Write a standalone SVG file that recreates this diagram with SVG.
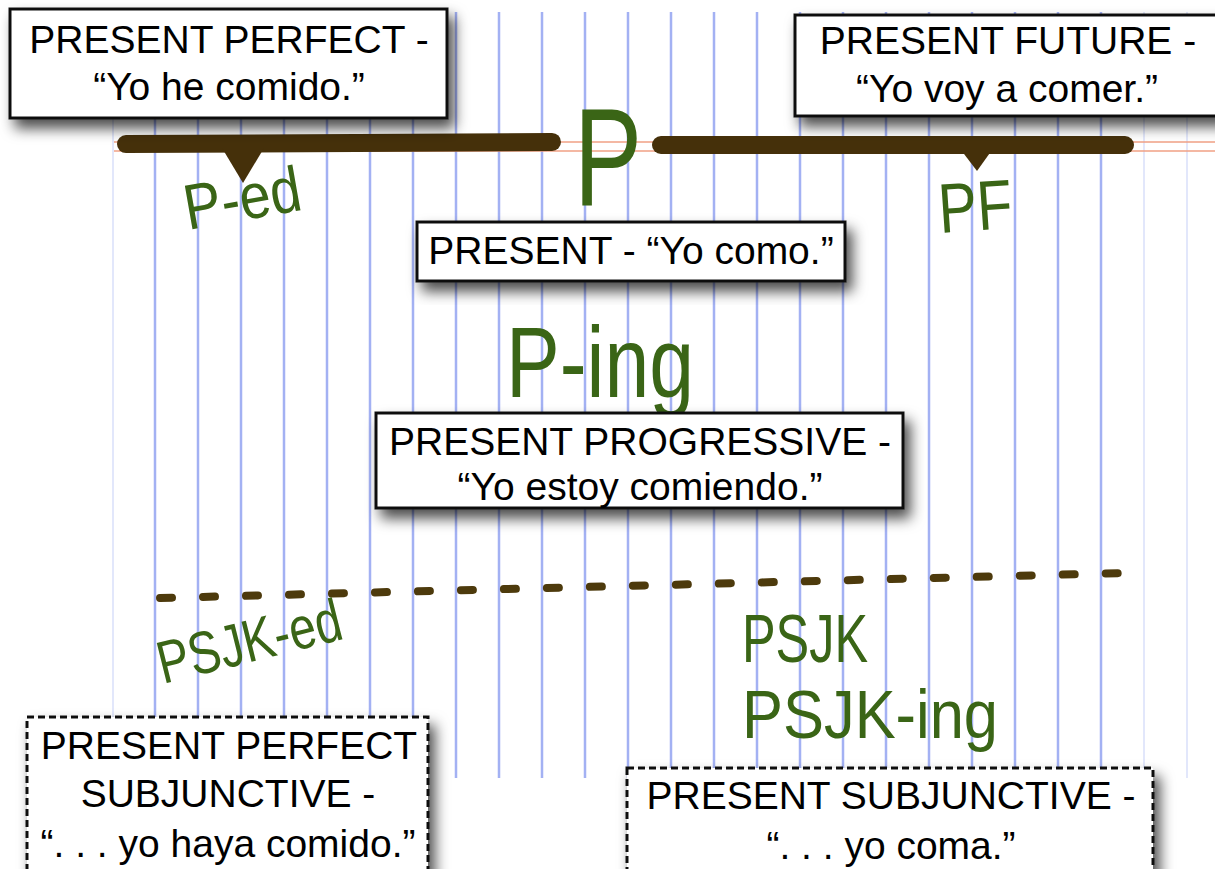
<svg xmlns="http://www.w3.org/2000/svg" width="1215" height="869" viewBox="0 0 1215 869">
<defs>
<style>
.vl{stroke:#a3b1f3;stroke-width:2.5}
.vf{stroke:#e2e7fb;stroke-width:2}
.or{stroke:#f0a084;stroke-width:1.6;fill:none}
.marker{stroke:#45300a;stroke-width:18;stroke-linecap:round;fill:none}
.dash{stroke:#4d3a0c;stroke-width:8;stroke-linecap:round;stroke-dasharray:12 31;fill:none}
.notch{fill:#45300a}
.box{fill:#fff;stroke:#111;stroke-width:3;filter:url(#sh)}
.dbox{fill:#fff;stroke:#111;stroke-width:3;stroke-dasharray:7 4;filter:url(#sh)}
.t{font-family:"Liberation Sans",Arial,Helvetica,sans-serif;font-size:39px;fill:#000;text-anchor:middle}
.hw{font-family:"Liberation Sans",Arial,sans-serif;fill:#3a6516}
</style>
<filter id="sh" x="-10%" y="-20%" width="130%" height="160%">
<feDropShadow dx="6" dy="9" stdDeviation="7" flood-color="#000" flood-opacity="0.7"/>
</filter>
</defs>
<rect width="1215" height="869" fill="#fff"/>
<g id="paper">
<line class="vf" x1="113" y1="12" x2="113" y2="778"/>
<line class="vl" x1="155" y1="12" x2="155" y2="778"/>
<line class="vl" x1="198" y1="12" x2="198" y2="778"/>
<line class="vl" x1="241" y1="12" x2="241" y2="778"/>
<line class="vl" x1="284" y1="12" x2="284" y2="778"/>
<line class="vl" x1="327" y1="12" x2="327" y2="778"/>
<line class="vl" x1="370" y1="12" x2="370" y2="778"/>
<line class="vl" x1="413" y1="12" x2="413" y2="778"/>
<line class="vl" x1="456" y1="12" x2="456" y2="778"/>
<line class="vl" x1="499" y1="12" x2="499" y2="778"/>
<line class="vl" x1="542" y1="12" x2="542" y2="778"/>
<line class="vl" x1="585" y1="12" x2="585" y2="778"/>
<line class="vl" x1="628" y1="12" x2="628" y2="778"/>
<line class="vl" x1="671" y1="12" x2="671" y2="778"/>
<line class="vl" x1="714" y1="12" x2="714" y2="778"/>
<line class="vl" x1="757" y1="12" x2="757" y2="778"/>
<line class="vl" x1="800" y1="12" x2="800" y2="778"/>
<line class="vl" x1="843" y1="12" x2="843" y2="778"/>
<line class="vl" x1="886" y1="12" x2="886" y2="778"/>
<line class="vl" x1="929" y1="12" x2="929" y2="778"/>
<line class="vl" x1="972" y1="12" x2="972" y2="778"/>
<line class="vl" x1="1015" y1="12" x2="1015" y2="778"/>
<line class="vl" x1="1058" y1="12" x2="1058" y2="778"/>
<line class="vl" x1="1101" y1="12" x2="1101" y2="778"/>
<line class="vf" x1="1144" y1="12" x2="1144" y2="778"/>
<line class="vf" x1="1187" y1="12" x2="1187" y2="778"/>
<line class="or" x1="114" y1="142" x2="1215" y2="142"/>
<line class="or" x1="114" y1="151" x2="1215" y2="151"/>
</g>
<g id="connectors">
<path class="marker" d="M126 144 L552 142"/>
<path class="marker" d="M661 145 L1125 145"/>
<path class="notch" d="M222 148 L264 148 L243 183 Z"/>
<path class="notch" d="M961 150 L992 150 L977 171 Z"/>
<path class="dash" d="M160 598 L1125 573"/>
</g>
<g id="label-P">
<text class="hw" x="574" y="205" font-size="140" textLength="68" lengthAdjust="spacingAndGlyphs">P</text>
</g>
<g id="label-Ped">
<text class="hw" x="188" y="230" font-size="64" textLength="118" lengthAdjust="spacingAndGlyphs" transform="rotate(-10 188 230)">P-ed</text>
</g>
<g id="label-PF">
<text class="hw" x="940" y="233" font-size="70" textLength="74" lengthAdjust="spacingAndGlyphs" transform="rotate(-4 940 233)">PF</text>
</g>
<g id="label-Ping">
<text class="hw" x="506" y="397" font-size="100" textLength="188" lengthAdjust="spacingAndGlyphs">P-ing</text>
</g>
<g id="label-PSJKed">
<text class="hw" x="163" y="684" font-size="60" textLength="188" lengthAdjust="spacingAndGlyphs" transform="rotate(-14 163 684)">PSJK-ed</text>
</g>
<g id="label-PSJK">
<text class="hw" x="742" y="662" font-size="68" textLength="126" lengthAdjust="spacingAndGlyphs">PSJK</text>
</g>
<g id="label-PSJKing">
<text class="hw" x="742" y="738" font-size="68" textLength="256" lengthAdjust="spacingAndGlyphs">PSJK-ing</text>
</g>
<g id="present-perfect">
<rect class="box" x="10" y="9" width="437" height="109"/>
<text class="t" x="229" y="53">PRESENT PERFECT -</text>
<text class="t" x="229" y="100">“Yo he comido.”</text>
</g>
<g id="present-future">
<rect class="box" x="795" y="15" width="430" height="101"/>
<text class="t" x="1008" y="54">PRESENT FUTURE -</text>
<text class="t" x="1007" y="102">“Yo voy a comer.”</text>
</g>
<g id="present">
<rect class="box" x="417" y="222" width="428" height="59"/>
<text class="t" x="631" y="264">PRESENT - “Yo como.”</text>
</g>
<g id="present-progressive">
<rect class="box" x="376" y="413" width="527" height="95"/>
<text class="t" x="640" y="455">PRESENT PROGRESSIVE -</text>
<text class="t" x="640" y="500">“Yo estoy comiendo.”</text>
</g>
<g id="present-perfect-subjunctive">
<rect class="dbox" x="27" y="717" width="401" height="160"/>
<text class="t" x="229" y="759">PRESENT PERFECT</text>
<text class="t" x="228" y="807">SUBJUNCTIVE -</text>
<text class="t" x="228" y="857">“. . . yo haya comido.”</text>
</g>
<g id="present-subjunctive">
<rect class="dbox" x="627" y="768" width="526" height="110"/>
<text class="t" x="891" y="809">PRESENT SUBJUNCTIVE -</text>
<text class="t" x="891" y="859">“. . . yo coma.”</text>
</g>
</svg>
